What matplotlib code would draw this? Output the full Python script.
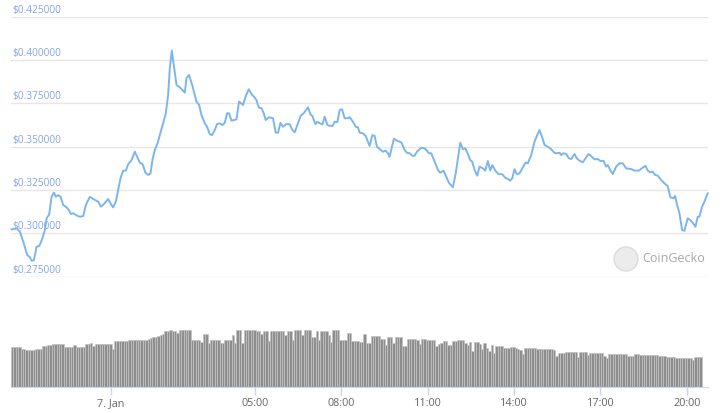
import numpy as np
import matplotlib
matplotlib.use('Agg')
import matplotlib.pyplot as plt
from matplotlib.patches import Ellipse

plt.rcParams['font.family'] = ['Open Sans', 'DejaVu Sans']

# prix (USD), heures relatives au 7 janvier 00:00
hours = [-3.458, -3.285, -3.170, -3.056, -2.917, -2.823, -2.764, -2.684, -2.590, -2.500,
         -2.417, -2.302, -2.243, -2.153, -2.069, -1.990, -1.920, -1.840, -1.757, -1.667,
         -1.549, -1.458, -1.399, -1.319, -1.181, -1.087, -0.972, -0.878, -0.740, -0.601,
         -0.451, -0.358, -0.253, -0.104, -0.010, 0.069, 0.163, 0.243, 0.326, 0.417,
         0.510, 0.590, 0.708, 0.823, 0.903, 0.997, 1.090, 1.194, 1.285, 1.368,
         1.438, 1.517, 1.611, 1.691, 1.806, 1.899, 1.979, 2.038, 2.108, 2.177,
         2.271, 2.385, 2.479, 2.559, 2.618, 2.708, 2.826, 2.965, 3.056, 3.139,
         3.253, 3.333, 3.427, 3.507, 3.601, 3.681, 3.774, 3.868, 3.948, 4.028,
         4.097, 4.181, 4.354, 4.444, 4.583, 4.701, 4.781, 4.875, 4.990, 5.049,
         5.128, 5.222, 5.302, 5.372, 5.476, 5.625, 5.719, 5.799, 5.882, 5.972,
         6.090, 6.205, 6.299, 6.378, 6.493, 6.587, 6.691, 6.840, 6.924, 6.993,
         7.097, 7.167, 7.247, 7.340, 7.420, 7.514, 7.594, 7.688, 7.767, 7.861,
         7.941, 8.021, 8.115, 8.208, 8.288, 8.403, 8.497, 8.576, 8.635, 8.750,
         8.844, 8.983, 9.076, 9.156, 9.236, 9.330, 9.444, 9.538, 9.618, 9.677,
         9.757, 9.826, 9.931, 10.083, 10.198, 10.278, 10.372, 10.465, 10.545, 10.625,
         10.778, 10.892, 10.972, 11.042, 11.125, 11.240, 11.354, 11.438, 11.552, 11.646,
         11.736, 11.875, 11.969, 12.049, 12.132, 12.222, 12.306, 12.396, 12.479, 12.549,
         12.628, 12.722, 12.802, 12.917, 13.000, 13.090, 13.174, 13.243, 13.358, 13.462,
         13.590, 13.694, 13.785, 13.868, 13.938, 14.017, 14.097, 14.191, 14.285, 14.399,
         14.479, 14.597, 14.712, 14.792, 14.885, 14.979, 15.059, 15.174, 15.292, 15.406,
         15.486, 15.580, 15.639, 15.719, 15.813, 15.903, 15.986, 16.101, 16.181, 16.274,
         16.389, 16.483, 16.587, 16.681, 16.795, 16.910, 17.003, 17.108, 17.201, 17.257,
         17.340, 17.431, 17.549, 17.663, 17.778, 17.896, 18.069, 18.184, 18.333, 18.472,
         18.566, 18.646, 18.729, 18.819, 18.903, 18.993, 19.111, 19.226, 19.340, 19.434,
         19.538, 19.597, 19.653, 19.747, 19.840, 19.920, 20.035, 20.153, 20.267, 20.302,
         20.382, 20.441, 20.535, 20.615, 20.729]

prices = [0.3023, 0.3029, 0.3010, 0.2952, 0.2875, 0.2862, 0.2842, 0.2846, 0.2923, 0.2927,
          0.2958, 0.3019, 0.3087, 0.3110, 0.3211, 0.3235, 0.3211, 0.3221, 0.3211, 0.3164,
          0.3150, 0.3131, 0.3112, 0.3116, 0.3102, 0.3096, 0.3100, 0.3164, 0.3211, 0.3196,
          0.3183, 0.3154, 0.3169, 0.3198, 0.3169, 0.3150, 0.3183, 0.3250, 0.3318, 0.3362,
          0.3362, 0.3398, 0.3423, 0.3471, 0.3442, 0.3408, 0.3400, 0.3350, 0.3337, 0.3346,
          0.3427, 0.3481, 0.3520, 0.3567, 0.3635, 0.3693, 0.3798, 0.3952, 0.4054, 0.3971,
          0.3856, 0.3843, 0.3827, 0.3812, 0.3895, 0.3914, 0.3850, 0.3760, 0.3741, 0.3683,
          0.3635, 0.3615, 0.3572, 0.3567, 0.3596, 0.3631, 0.3635, 0.3625, 0.3638, 0.3693,
          0.3693, 0.3650, 0.3658, 0.3760, 0.3741, 0.3802, 0.3831, 0.3804, 0.3783, 0.3769,
          0.3727, 0.3722, 0.3693, 0.3654, 0.3670, 0.3664, 0.3581, 0.3581, 0.3638, 0.3615,
          0.3631, 0.3629, 0.3596, 0.3583, 0.3635, 0.3679, 0.3693, 0.3727, 0.3687, 0.3677,
          0.3631, 0.3644, 0.3635, 0.3629, 0.3673, 0.3625, 0.3621, 0.3619, 0.3644, 0.3642,
          0.3712, 0.3716, 0.3664, 0.3664, 0.3670, 0.3644, 0.3615, 0.3612, 0.3581, 0.3577,
          0.3562, 0.3504, 0.3567, 0.3562, 0.3500, 0.3487, 0.3471, 0.3477, 0.3462, 0.3442,
          0.3500, 0.3546, 0.3535, 0.3525, 0.3481, 0.3465, 0.3462, 0.3448, 0.3448, 0.3471,
          0.3494, 0.3491, 0.3477, 0.3462, 0.3462, 0.3413, 0.3366, 0.3350, 0.3362, 0.3327,
          0.3292, 0.3266, 0.3342, 0.3433, 0.3523, 0.3485, 0.3491, 0.3458, 0.3423, 0.3413,
          0.3366, 0.3333, 0.3385, 0.3375, 0.3362, 0.3417, 0.3362, 0.3394, 0.3360, 0.3342,
          0.3341, 0.3321, 0.3314, 0.3304, 0.3318, 0.3370, 0.3342, 0.3346, 0.3375, 0.3408,
          0.3404, 0.3452, 0.3529, 0.3562, 0.3596, 0.3554, 0.3510, 0.3500, 0.3485, 0.3465,
          0.3462, 0.3465, 0.3452, 0.3462, 0.3458, 0.3433, 0.3429, 0.3458, 0.3433, 0.3419,
          0.3410, 0.3433, 0.3458, 0.3446, 0.3427, 0.3429, 0.3417, 0.3419, 0.3385, 0.3394,
          0.3366, 0.3342, 0.3385, 0.3404, 0.3404, 0.3375, 0.3371, 0.3362, 0.3362, 0.3379,
          0.3390, 0.3362, 0.3352, 0.3356, 0.3337, 0.3333, 0.3308, 0.3289, 0.3273, 0.3208,
          0.3202, 0.3216, 0.3173, 0.3116, 0.3019, 0.3015, 0.3087, 0.3073, 0.3048, 0.3038,
          0.3096, 0.3096, 0.3154, 0.3183, 0.3231]

# volume par tranche de 5 minutes (unites arbitraires)
volume = [40, 40, 40, 40, 38, 38, 37, 37, 37, 37, 38, 38, 38, 41, 41, 42, 42, 43, 43, 43,
          43, 43, 40, 40, 40, 40, 42, 40, 40, 40, 40, 43, 43, 44, 41, 43, 43, 43, 43, 43,
          43, 43, 38, 46, 46, 46, 46, 46, 46, 47, 47, 47, 47, 47, 47, 47, 47, 48, 49, 50,
          50, 51, 52, 53, 56, 56, 57, 56, 56, 54, 57, 57, 57, 57, 57, 47, 47, 47, 47, 45,
          53, 53, 44, 47, 47, 47, 47, 44, 44, 47, 47, 47, 52, 44, 57, 57, 44, 57, 57, 57,
          57, 57, 56, 56, 53, 56, 56, 46, 56, 56, 56, 56, 56, 56, 52, 56, 56, 47, 57, 57,
          57, 52, 57, 57, 57, 50, 50, 56, 47, 56, 56, 56, 52, 45, 57, 57, 57, 47, 47, 47,
          54, 54, 46, 46, 46, 45, 45, 53, 44, 44, 51, 51, 51, 51, 48, 48, 42, 50, 50, 44,
          50, 50, 50, 41, 41, 48, 48, 48, 48, 47, 43, 48, 48, 47, 47, 47, 47, 41, 43, 44,
          46, 46, 42, 42, 46, 46, 47, 47, 47, 44, 42, 45, 36, 45, 45, 43, 38, 44, 39, 36,
          42, 34, 41, 41, 41, 39, 39, 39, 40, 40, 39, 38, 37, 33, 39, 39, 39, 39, 39, 38,
          38, 38, 38, 38, 38, 38, 37, 31, 34, 34, 34, 35, 35, 35, 35, 35, 30, 35, 35, 35,
          32, 34, 34, 34, 34, 34, 34, 31, 29, 33, 33, 33, 33, 33, 33, 33, 33, 31, 31, 31,
          33, 33, 32, 32, 32, 32, 32, 32, 32, 32, 31, 31, 31, 30, 30, 30, 30, 29, 29, 29,
          29, 29, 29, 29, 27, 30, 30, 30]

grid_prices = [0.275, 0.300, 0.325, 0.350, 0.375, 0.400, 0.425]
tick_hours = [0, 5, 8, 11, 14, 17, 20]
tick_labels = ['7. Jan', '05:00', '08:00', '11:00', '14:00', '17:00', '20:00']

vol_start = -3.44          # 20:34 le 6 janvier
vol_step = 5 / 60          # 5 minutes
vol_hours = vol_start + vol_step * np.arange(len(volume))

W, H = 722, 413
fig = plt.figure(figsize=(W / 100, H / 100), dpi=100)
xlim = (-3.48, 20.74)

# graphique du prix
ax = fig.add_axes([11 / W, 1 - 276.7 / H, 697 / W, 260 / H])
for g in grid_prices:
    ax.axhline(g, color='#e6e6e6', lw=1, zorder=0)
    ax.text(1 / 697, g + 0.0006, '$%.6f' % g, transform=ax.get_yaxis_transform(),
            ha='left', va='bottom', fontsize=7.3, color='#86a5e3', zorder=1)
ax.plot(hours, prices, color='#7cb5ec', lw=1.4, zorder=3, clip_on=False)
ax.set_xlim(xlim)
ax.set_ylim(0.275, 0.425)
ax.axis('off')

# volume
axv = fig.add_axes([11 / W, 1 - 387.3 / H, 697 / W, 87.3 / H])
axv.bar(vol_hours, volume, width=vol_step, color='#8e8e8e', edgecolor='#c4c4c4',
        linewidth=0.5, align='center')
axv.set_xlim(xlim)
axv.set_ylim(0, 87.3)
for s in ['top', 'right', 'left']:
    axv.spines[s].set_visible(False)
axv.spines['bottom'].set_color('#ccd6eb')
axv.set_yticks([])
axv.set_xticks(tick_hours)
axv.set_xticklabels(tick_labels)
axv.tick_params(axis='x', colors='#ccd6eb', length=6, width=1, pad=2, labelsize=7.8,
                labelcolor='#666666')

# filigrane
fig.add_artist(Ellipse((626 / W, 1 - 259 / H), 24 / W, 24 / H, facecolor='#ececec',
                       edgecolor='#dcdcdc', lw=1))
fig.text(642 / W, 1 - 259 / H, 'CoinGecko', ha='left', va='center', fontsize=9,
         color='#a8a8a8')

plt.savefig('out.png', dpi=100)
